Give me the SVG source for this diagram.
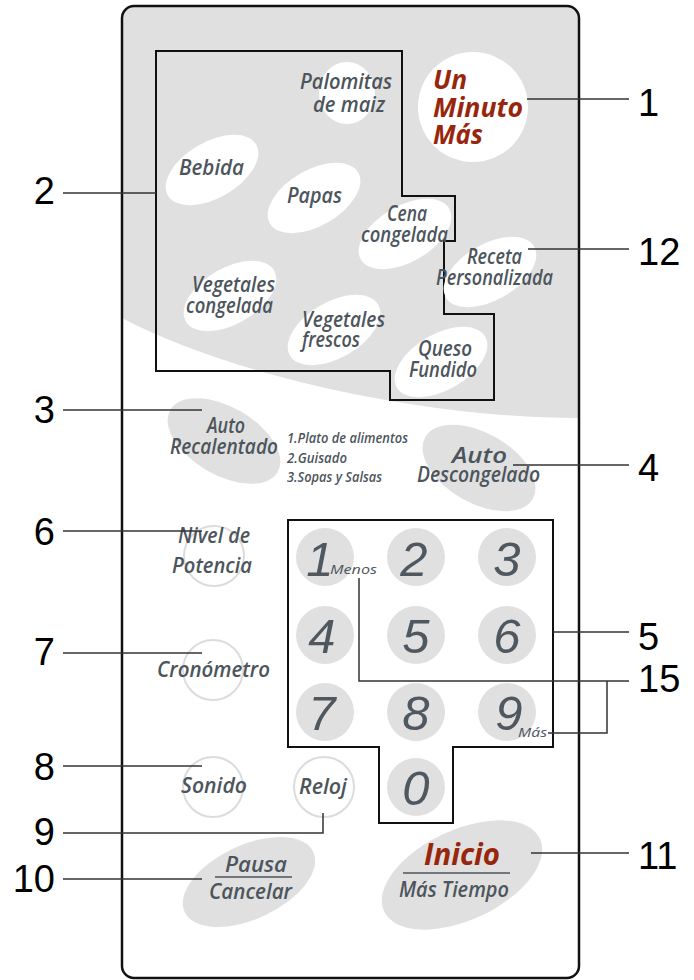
<svg xmlns="http://www.w3.org/2000/svg" width="694" height="980" viewBox="0 0 694 980">
<style>
.lbl{font-family:"Open Sans","Liberation Sans",sans-serif;font-style:italic;font-weight:600;font-size:21.5px;fill:#4d555c}
.red{font-family:"Open Sans","Liberation Sans",sans-serif;font-style:italic;font-weight:700;font-size:26px;fill:#97260d}
.sm{font-family:"Open Sans","Liberation Sans",sans-serif;font-style:italic;font-weight:600;font-size:15px;fill:#4d555c}
.dig{font-family:"Liberation Sans",sans-serif;font-style:italic;font-size:49px;fill:#50585f;text-anchor:middle}
.tiny{font-family:"Open Sans","Liberation Sans",sans-serif;font-style:italic;font-size:13.5px;fill:#4d555c}
.num{font-family:"Liberation Sans",Arial,sans-serif;font-size:38px;fill:#000}
.wht{fill:#fff}
.gry{fill:#e0e0e0}
.ring{fill:none;stroke:#dcdcdc;stroke-width:2}
.lead{fill:none;stroke:#333;stroke-width:1.5}
.box{fill:none;stroke:#111;stroke-width:2}
</style>
<defs>
<clipPath id="panelClip"><rect x="122" y="6" width="457" height="972" rx="12"/></clipPath>
</defs>
<rect width="694" height="980" fill="#fff"/>
<g id="panel">
<rect x="122" y="6" width="457" height="972" rx="12" fill="#fff"/>
<path clip-path="url(#panelClip)" class="gry" d="M120,4 H581 V418 C420,418 230,375 122,318 Z"/>
<rect x="122" y="6" width="457" height="972" rx="12" fill="none" stroke="#111" stroke-width="2.5"/>
</g>
<g id="program-area">
<polygon class="box" points="156,51 402,51 402,196 455,196 455,241 444,241 444,314 494,314 494,400 390,400 390,371 156,371"/>
</g>
<g id="palomitas">
<ellipse class="wht" cx="347" cy="93" rx="28" ry="31"/>
<text class="lbl" x="300" y="89" textLength="92" lengthAdjust="spacingAndGlyphs">Palomitas</text>
<text class="lbl" x="313" y="112" textLength="72" lengthAdjust="spacingAndGlyphs">de maiz</text>
</g>
<g id="un-minuto">
<circle class="wht" cx="473" cy="107" r="55"/>
<text class="red" x="433" y="89" textLength="34" lengthAdjust="spacingAndGlyphs">Un</text>
<text class="red" x="433" y="117" textLength="90" lengthAdjust="spacingAndGlyphs">Minuto</text>
<text class="red" x="433" y="144" textLength="50" lengthAdjust="spacingAndGlyphs">Más</text>
</g>
<g id="bebida">
<ellipse class="wht" cx="212" cy="170" rx="51" ry="28" transform="rotate(-30 212 170)"/>
<text class="lbl" x="179" y="175" textLength="65" lengthAdjust="spacingAndGlyphs">Bebida</text>
</g>
<g id="papas">
<ellipse class="wht" cx="314" cy="198" rx="51" ry="28" transform="rotate(-30 314 198)"/>
<text class="lbl" x="287" y="203" textLength="55" lengthAdjust="spacingAndGlyphs">Papas</text>
</g>
<g id="cena">
<ellipse class="wht" cx="405" cy="234" rx="51" ry="28" transform="rotate(-30 405 234)"/>
<text class="lbl" x="387" y="221" textLength="40" lengthAdjust="spacingAndGlyphs">Cena</text>
<text class="lbl" x="361" y="242" textLength="87" lengthAdjust="spacingAndGlyphs">congelada</text>
</g>
<g id="receta">
<ellipse class="wht" cx="490" cy="272" rx="51" ry="28" transform="rotate(-30 490 272)"/>
<text class="lbl" x="467" y="264" textLength="55" lengthAdjust="spacingAndGlyphs">Receta</text>
<text class="lbl" x="436" y="285" textLength="117" lengthAdjust="spacingAndGlyphs">Personalizada</text>
</g>
<g id="veg-congelada">
<ellipse class="wht" cx="230" cy="296" rx="51" ry="28" transform="rotate(-30 230 296)"/>
<text class="lbl" x="192" y="292" textLength="83" lengthAdjust="spacingAndGlyphs">Vegetales</text>
<text class="lbl" x="186" y="313" textLength="87" lengthAdjust="spacingAndGlyphs">congelada</text>
</g>
<g id="veg-frescos">
<ellipse class="wht" cx="334" cy="330" rx="51" ry="28" transform="rotate(-30 334 330)"/>
<text class="lbl" x="302" y="327" textLength="83" lengthAdjust="spacingAndGlyphs">Vegetales</text>
<text class="lbl" x="302" y="347" textLength="58" lengthAdjust="spacingAndGlyphs">frescos</text>
</g>
<g id="queso">
<ellipse class="wht" cx="441" cy="362" rx="51" ry="28" transform="rotate(-30 441 362)"/>
<text class="lbl" x="418" y="356" textLength="54" lengthAdjust="spacingAndGlyphs">Queso</text>
<text class="lbl" x="409" y="377" textLength="68" lengthAdjust="spacingAndGlyphs">Fundido</text>
</g>
<g id="auto-recalentado">
<ellipse class="gry" cx="224" cy="441" rx="62" ry="34" transform="rotate(30 224 441)"/>
<text class="lbl" x="207" y="433" textLength="38" lengthAdjust="spacingAndGlyphs">Auto</text>
<text class="lbl" x="170" y="454" textLength="108" lengthAdjust="spacingAndGlyphs">Recalentado</text>
</g>
<g id="menu-list">
<text class="sm" x="287" y="443" textLength="121" lengthAdjust="spacingAndGlyphs">1.Plato de alimentos</text>
<text class="sm" x="287" y="463" textLength="60" lengthAdjust="spacingAndGlyphs">2.Guisado</text>
<text class="sm" x="287" y="482" textLength="95" lengthAdjust="spacingAndGlyphs">3.Sopas y Salsas</text>
</g>
<g id="auto-descongelado">
<ellipse class="gry" cx="479" cy="468" rx="62" ry="35" transform="rotate(30 479 468)"/>
<text class="lbl" x="452" y="463" textLength="55" lengthAdjust="spacingAndGlyphs">Auto</text>
<text class="lbl" x="417" y="482" textLength="123" lengthAdjust="spacingAndGlyphs">Descongelado</text>
</g>
<g id="nivel">
<circle class="ring" cx="214" cy="556" r="30"/>
<text class="lbl" x="178" y="543" textLength="72" lengthAdjust="spacingAndGlyphs">Nivel de</text>
<text class="lbl" x="172" y="573" textLength="80" lengthAdjust="spacingAndGlyphs">Potencia</text>
</g>
<g id="cronometro">
<circle class="ring" cx="213" cy="670" r="30"/>
<text class="lbl" x="157" y="677" textLength="113" lengthAdjust="spacingAndGlyphs">Cronómetro</text>
</g>
<g id="sonido">
<circle class="ring" cx="213" cy="787" r="30"/>
<text class="lbl" x="181" y="793" textLength="66" lengthAdjust="spacingAndGlyphs">Sonido</text>
</g>
<g id="reloj">
<circle class="ring" cx="324" cy="787" r="30"/>
<text class="lbl" x="299" y="794" textLength="48" lengthAdjust="spacingAndGlyphs">Reloj</text>
</g>
<g id="keypad">
<polygon class="box" points="288,520 553,520 553,747 453,747 453,823 379,823 379,747 288,747"/>
<circle class="gry" cx="325" cy="557" r="29"/>
<circle class="gry" cx="416" cy="557" r="29"/>
<circle class="gry" cx="507" cy="557" r="29"/>
<circle class="gry" cx="325" cy="635" r="29"/>
<circle class="gry" cx="416" cy="635" r="29"/>
<circle class="gry" cx="507" cy="635" r="29"/>
<circle class="gry" cx="325" cy="712" r="29"/>
<circle class="gry" cx="416" cy="712" r="29"/>
<circle class="gry" cx="507" cy="712" r="29"/>
<circle class="gry" cx="416" cy="787" r="29"/>
<text class="dig" x="320" y="576">1</text>
<text class="dig" x="414" y="576">2</text>
<text class="dig" x="507" y="576">3</text>
<text class="dig" x="322" y="653">4</text>
<text class="dig" x="416" y="653">5</text>
<text class="dig" x="507" y="653">6</text>
<text class="dig" x="322" y="730">7</text>
<text class="dig" x="416" y="730">8</text>
<text class="dig" x="509" y="730">9</text>
<text class="dig" x="416" y="805">0</text>
<text class="tiny" x="330" y="574" textLength="47" lengthAdjust="spacingAndGlyphs">Menos</text>
<text class="tiny" x="518" y="737" textLength="29" lengthAdjust="spacingAndGlyphs">Más</text>
</g>
<g id="pausa">
<ellipse class="gry" cx="249" cy="882" rx="71" ry="37" transform="rotate(-25 249 882)"/>
<text class="lbl" x="225" y="872" textLength="62" lengthAdjust="spacingAndGlyphs">Pausa</text>
<line x1="215" y1="877" x2="292" y2="877" stroke="#4d555c" stroke-width="1.5"/>
<text class="lbl" x="209" y="899" textLength="83" lengthAdjust="spacingAndGlyphs">Cancelar</text>
</g>
<g id="inicio">
<ellipse class="gry" cx="462" cy="875" rx="86" ry="45" transform="rotate(-25 462 875)"/>
<text class="red" style="font-size:30px" x="424" y="865" textLength="76" lengthAdjust="spacingAndGlyphs">Inicio</text>
<line x1="403" y1="873" x2="510" y2="873" stroke="#4d555c" stroke-width="1.5"/>
<text class="lbl" x="399" y="897" textLength="110" lengthAdjust="spacingAndGlyphs">Más Tiempo</text>
</g>
<g id="connectors">
<path class="lead" d="M527,99 H629"/>
<path class="lead" d="M63,193 H156"/>
<path class="lead" d="M528,249 H629"/>
<path class="lead" d="M63,410 H202"/>
<path class="lead" d="M513,465 H629"/>
<path class="lead" d="M63,531 H202"/>
<path class="lead" d="M553,632 H629"/>
<path class="lead" d="M63,653 H202"/>
<path class="lead" d="M359,578 V681 H629"/>
<path class="lead" d="M607,681 V733 H548"/>
<path class="lead" d="M63,766 H202"/>
<path class="lead" d="M323,813 V833 H63"/>
<path class="lead" d="M63,879 H202"/>
<path class="lead" d="M531,853 H629"/>
</g>
<g id="callout-numbers">
<text class="num" x="638" y="116">1</text>
<text class="num" x="55" y="204" text-anchor="end">2</text>
<text class="num" x="638" y="265">12</text>
<text class="num" x="55" y="423" text-anchor="end">3</text>
<text class="num" x="638" y="481">4</text>
<text class="num" x="55" y="545" text-anchor="end">6</text>
<text class="num" x="638" y="650">5</text>
<text class="num" x="55" y="665" text-anchor="end">7</text>
<text class="num" x="638" y="692">15</text>
<text class="num" x="55" y="780" text-anchor="end">8</text>
<text class="num" x="55" y="845" text-anchor="end">9</text>
<text class="num" x="55" y="892" text-anchor="end">10</text>
<text class="num" x="638" y="869">11</text>
</g>
</svg>
